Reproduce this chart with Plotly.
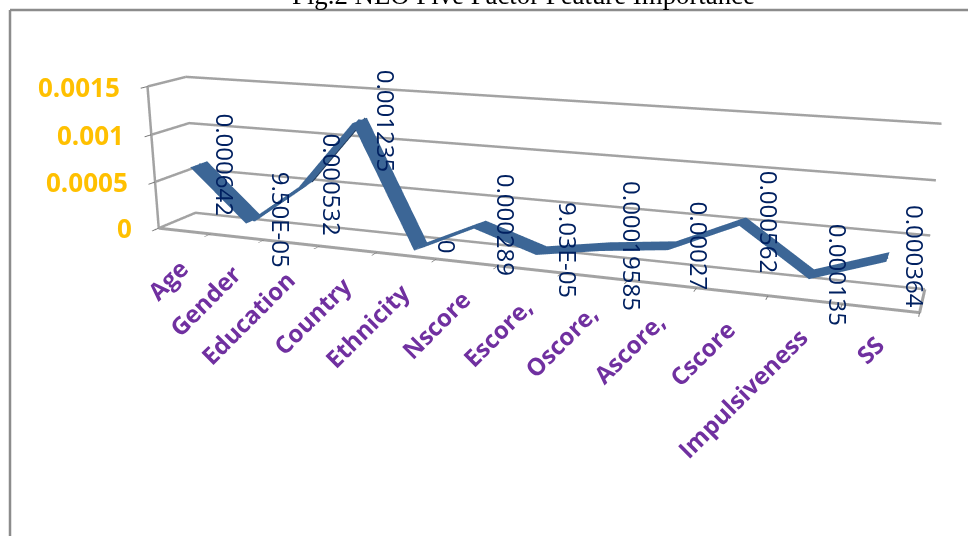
import plotly.graph_objects as go

categories = ["Age", "Gender", "Education", "Country", "Ethnicity", "Nscore",
              "Escore,", "Oscore,", "Ascore,", "Cscore", "Impulsiveness", "SS"]
importance = [0.000642, 0.000095, 0.000532, 0.001235, 0, 0.000289,
              0.0000903, 0.00019585, 0.00027, 0.000562, 0.000135, 0.000364]
value_labels = ["0.000642", "9.50E-05", "0.000532", "0.001235", "0", "0.000289",
                "9.03E-05", "0.00019585", "0.00027", "0.000562", "0.000135", "0.000364"]
value_ticks = [0, 0.0005, 0.001, 0.0015]
tick_labels = ["0", "0.0005", "0.001", "0.0015"]

# The scene is taller than the window so that the lens is long enough for a
# shallow perspective; the page is shifted up to centre the view on the chart.
FIG_W, FIG_H = 968, 1077
PAGE_SHIFT = 270
GRID = "#a3a3a3"
RIBBON = "#3c6696"
RIBBON_SHADE = "#1f3a5c"
X_MAX, Y_MAX = 12, 1
Z_MAX = value_ticks[-1]


def paper_x(px):
    return px / FIG_W


def paper_y(px):
    return 1 - (px + PAGE_SHIFT) / FIG_H


def frame_line(xs, ys, zs, color=GRID, width=5):
    return go.Scatter3d(x=xs, y=ys, z=zs, mode="lines", hoverinfo="skip",
                        line=dict(color=color, width=width))


positions = [i + 0.5 for i in range(len(categories))]

fig = go.Figure()

# Walls: each value level runs along the side wall, then along the back wall.
for v in value_ticks:
    fig.add_trace(frame_line([0, 0, X_MAX], [0, Y_MAX, Y_MAX], [v, v, v]))
# Floor edges and the value axis.
fig.add_trace(frame_line([0, X_MAX, X_MAX], [0, 0, Y_MAX], [0, 0, 0], width=6))
fig.add_trace(frame_line([0, 0], [0, 0], [0, Z_MAX]))

# Excel-style 3-D line: a flat ribbon running through the depth of the chart.
fig.add_trace(go.Surface(
    x=positions,
    y=[0.27, 0.73],
    z=[importance, importance],
    surfacecolor=[[0] * len(importance)] * 2,
    colorscale=[[0, RIBBON], [1, RIBBON]],
    cmin=0, cmax=1, showscale=False,
    lighting=dict(ambient=1, diffuse=0, specular=0, fresnel=0),
    hoverinfo="skip",
))
# A stroke along the middle keeps the edge-on stretches of the ribbon visible.
fig.add_trace(frame_line(positions, [0.5] * len(positions), importance,
                         color=RIBBON, width=7))
# The rising Education-Country stretch shows the shaded underside of the ribbon.
fig.add_trace(frame_line(positions[2:4], [0.68, 0.68], importance[2:4],
                         color=RIBBON_SHADE, width=4))

annotations = []
for x, v, lab in zip(positions, importance, value_labels):
    annotations.append(dict(
        x=x, y=0.5, z=v, text=lab, showarrow=False, textangle=90, xshift=27,
        font=dict(family="Open Sans", size=24, color="#002060"),
    ))
for x, cat in zip(positions, categories):
    annotations.append(dict(
        x=x, y=0, z=0, text=cat, showarrow=False, textangle=-45,
        xanchor="right", yanchor="top", xshift=13, yshift=-18,
        font=dict(family="Open Sans", size=24, color="#7030a0", weight=700),
    ))
for v, lab in zip(value_ticks, tick_labels):
    annotations.append(dict(
        x=0, y=0, z=v, text=lab, showarrow=False, xanchor="right", xshift=-25,
        font=dict(family="Open Sans", size=26, color="#ffc000", weight=700),
    ))

axis_common = dict(
    showbackground=False, showspikes=False, zeroline=False, title="",
    showline=False, showticklabels=False, showgrid=False,
)

fig.update_layout(
    width=FIG_W, height=FIG_H, autosize=False,
    margin=dict(l=0, r=0, t=0, b=0),
    paper_bgcolor="white",
    showlegend=False,
    scene=dict(
        domain=dict(x=[0, 1], y=[0, 1]),
        aspectmode="manual",
        aspectratio=dict(x=1.12, y=0.1006, z=0.2192),
        camera=dict(
            eye=dict(x=0.6174, y=-1.6674, z=0.4172),
            center=dict(x=-0.0162, y=-0.0618, z=-0.112),
            up=dict(x=-0.108, y=0.283, z=0.956),
        ),
        xaxis=dict(range=[0, X_MAX], tickvals=list(range(X_MAX + 1)), ticks="outside",
                   ticklen=10, tickcolor="#777777", tickwidth=2, **axis_common),
        yaxis=dict(range=[0, Y_MAX], tickvals=[], **axis_common),
        zaxis=dict(range=[0, Z_MAX], tickvals=value_ticks, ticks="outside",
                   ticklen=10, tickcolor="#777777", tickwidth=2, **axis_common),
        annotations=annotations,
    ),
    shapes=[
        dict(type="line", xref="paper", yref="paper", x0=paper_x(10), x1=paper_x(968),
             y0=paper_y(10), y1=paper_y(10), line=dict(color="#8c8c8c", width=2.5)),
        dict(type="line", xref="paper", yref="paper", x0=paper_x(10), x1=paper_x(10),
             y0=paper_y(10), y1=paper_y(536), line=dict(color="#8c8c8c", width=2.5)),
    ],
    annotations=[dict(
        xref="paper", yref="paper", x=paper_x(523), y=paper_y(-5), yanchor="middle",
        text="Fig.2 NEO Five Factor Feature Importance", showarrow=False,
        font=dict(family="Liberation Serif", size=26.8, color="#000000"),
    )],
)

fig.write_html(
    "out.html",
    config=dict(displayModeBar=False),
    post_script=(
        "gd = document.getElementById('{plot_id}');"
        f"gd.style.marginTop = '-{PAGE_SHIFT}px';"
        "document.body.style.margin = '0';"
        "document.documentElement.style.overflow = 'hidden';"
        "document.body.style.overflow = 'hidden';"
    ),
)
